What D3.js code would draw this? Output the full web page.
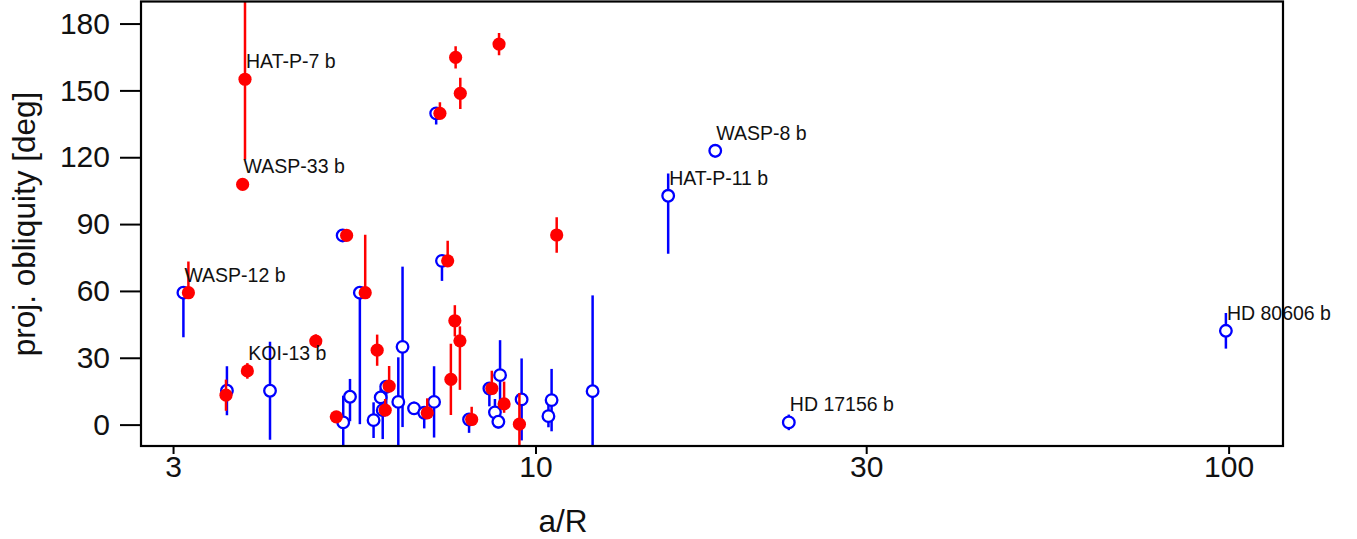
<!DOCTYPE html>
<html>
<head>
<meta charset="utf-8">
<script src="https://cdn.jsdelivr.net/npm/d3@7/dist/d3.min.js"></script>
<style>
  html, body { margin: 0; padding: 0; background: #fff; }
  svg { display: block; }
  text { font-family: "Liberation Sans", Arial, Helvetica, sans-serif; fill: #111; }
</style>
</head>
<body>
<svg id="chart" width="1357" height="539"></svg>
<script>
// ---- data (a/R, projected obliquity [deg], lower / upper error) ----
const redAR  = [3.81, 3.78, 7.67, 8.86, 7.79, 7.28, 5.34, 7.47, 10.73, 3.157, 3.577, 3.84, 4.82, 5.16, 5.68, 5.91, 6.15, 6.07, 6.98, 7.65, 7.78, 7.55, 8.09, 8.65, 9.01, 9.48];
const redDeg = [155, 107.8, 164.8, 170.8, 148.7, 139.7, 84.9, 73.5, 85.1, 59.2, 13.2, 24.1, 37.5, 3.5, 59.2, 33.4, 17.3, 6.5, 5.3, 46.6, 37.6, 20.3, 2.3, 16.2, 9.3, 0.2];
const redLo  = [36, 0, 5, 5, 7, 0, 0, 0, 8, 0, 7, 3.5, 3, 0, 0, 7, 0, 0, 0, 7, 22, 16, 0, 0, 4, 14];
const redHi  = [60, 0, 5, 5, 7, 5, 0, 9, 8, 14, 7, 3.5, 3, 0, 26, 7, 9, 5, 6.5, 7, 6.5, 16, 5.7, 8, 10, 14];

const blueAR  = [7.19, 5.27, 7.33, 3.105, 3.588, 4.14, 5.28, 5.40, 5.58, 5.84, 5.98, 6.09, 6.02, 6.34, 6.43, 6.68, 6.91, 7.14, 8.02, 8.58, 8.89, 8.74, 8.84, 9.55, 10.55, 10.44, 12.09, 15.54, 18.17, 23.2, 99.1];
const blueDeg = [139.7, 84.9, 73.5, 59.2, 15.2, 15.2, 1.0, 12.5, 59.2, 2.0, 12.2, 17.0, 6.5, 10.2, 34.9, 7.3, 5.3, 10.2, 2.3, 16.2, 22.2, 5.5, 1.3, 11.3, 11.0, 3.8, 15.0, 102.7, 122.9, 1.0, 42.1];
const blueLo  = [5, 0, 9, 20, 11, 22, 12, 11, 59, 8, 4, 8, 13, 20, 36, 3, 7, 16, 6, 8, 15.7, 6, 3, 18.4, 14, 5, 43, 26, 3, 3.5, 8];
const blueHi  = [0, 0, 0, 0, 11, 22, 12, 8, 0, 8, 4, 0, 0, 20, 36, 3, 0, 16, 0, 0, 15.7, 6, 3, 18.4, 14, 5, 43, 10, 3, 3.5, 8];

// labelled planets: name, series, index into that series
const labelNames  = ["HAT-P-7 b", "WASP-33 b", "WASP-12 b", "KOI-13 b", "HAT-P-11 b", "WASP-8 b", "HD 17156 b", "HD 80606 b"];
const labelSeries = ["red", "red", "blue", "red", "blue", "blue", "blue", "blue"];
const labelIndex  = [0, 1, 3, 11, 27, 28, 29, 30];

const xTicks = [3, 10, 30, 100];
const yTicks = [0, 30, 60, 90, 120, 150, 180];

// ---- layout ----
const svg = d3.select("#chart");
const L = 141, R = 1283, T = 1.5, B = 446;

const x = d3.scaleLog().domain([2.697, 119.8]).range([L, R]);
const y = d3.scaleLinear().domain([-9.6, 189.9]).range([B, T]);

const FONT = 30;
const TITLE_FONT = 31.5;

svg.append("defs").append("clipPath").attr("id", "plotclip")
  .append("rect").attr("x", L).attr("y", T).attr("width", R - L).attr("height", B - T);

const plot = svg.append("g").attr("clip-path", "url(#plotclip)");

function series(ar, deg, lo, hi) {
  return ar.map((a, i) => ({ a: a, d: deg[i], lo: lo[i], hi: hi[i] }));
}
const red = series(redAR, redDeg, redLo, redHi);
const blue = series(blueAR, blueDeg, blueLo, blueHi);

// blue error bars + open circles
plot.append("g").selectAll("line").data(blue.filter(p => p.lo > 0 || p.hi > 0)).join("line")
  .attr("x1", p => x(p.a)).attr("x2", p => x(p.a))
  .attr("y1", p => y(p.d - p.lo)).attr("y2", p => y(p.d + p.hi))
  .attr("stroke", "#0000ff").attr("stroke-width", 2.5);
plot.append("g").selectAll("circle").data(blue).join("circle")
  .attr("cx", p => x(p.a)).attr("cy", p => y(p.d)).attr("r", 5.8)
  .attr("fill", "#fff").attr("stroke", "#0000ff").attr("stroke-width", 2.3);

// red error bars + filled dots
plot.append("g").selectAll("line").data(red.filter(p => p.lo > 0 || p.hi > 0)).join("line")
  .attr("x1", p => x(p.a)).attr("x2", p => x(p.a))
  .attr("y1", p => y(p.d - p.lo)).attr("y2", p => y(p.d + p.hi))
  .attr("stroke", "#ff0000").attr("stroke-width", 2.5);
plot.append("g").selectAll("circle").data(red).join("circle")
  .attr("cx", p => x(p.a)).attr("cy", p => y(p.d)).attr("r", 6.6)
  .attr("fill", "#ff0000");

// labels
const labels = labelNames.map((n, i) => {
  const p = (labelSeries[i] === "red" ? red : blue)[labelIndex[i]];
  return { name: n, a: p.a, d: p.d };
});
svg.append("g").selectAll("text").data(labels).join("text")
  .attr("x", p => x(p.a) + 1).attr("y", p => y(p.d) - 11)
  .attr("font-size", 19.5).text(p => p.name);

// axes
const xAxis = d3.axisBottom(x).tickValues(xTicks).tickFormat(d3.format("d"))
  .tickSize(8).tickPadding(1.5);
const gx = svg.append("g").attr("transform", `translate(0,${B})`).call(xAxis);
gx.select(".domain").remove();
gx.selectAll(".tick line").attr("stroke", "#000").attr("stroke-width", 2);
gx.selectAll(".tick text").attr("font-size", FONT).attr("fill", "#111")
  .attr("font-family", '"Liberation Sans", Arial, sans-serif');

const yAxis = d3.axisLeft(y).tickValues(yTicks).tickSize(21).tickPadding(10);
const gy = svg.append("g").attr("transform", `translate(${L},0)`).call(yAxis);
gy.select(".domain").remove();
gy.selectAll(".tick line").attr("stroke", "#000").attr("stroke-width", 2);
gy.selectAll(".tick text").attr("font-size", FONT).attr("fill", "#111")
  .attr("font-family", '"Liberation Sans", Arial, sans-serif');

// frame
svg.append("rect").attr("x", L).attr("y", T).attr("width", R - L).attr("height", B - T)
  .attr("fill", "none").attr("stroke", "#000").attr("stroke-width", 2.2);

// axis titles
svg.append("text").attr("x", 563).attr("y", 532).attr("text-anchor", "middle")
  .attr("font-size", TITLE_FONT).text("a/R");
svg.append("text").attr("transform", "translate(35,224) rotate(-90)")
  .attr("text-anchor", "middle").attr("font-size", TITLE_FONT).text("proj. obliquity [deg]");
</script>
</body>
</html>
